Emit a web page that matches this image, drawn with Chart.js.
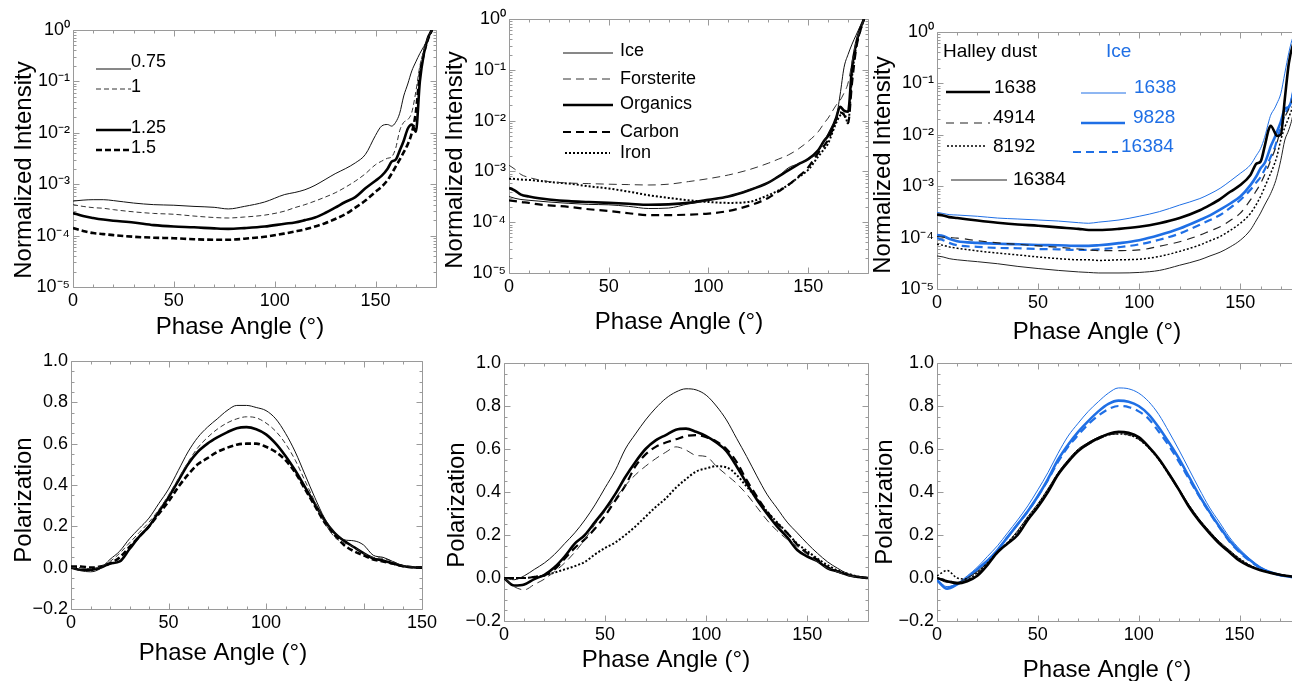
<!DOCTYPE html>
<html lang="en">
<head>
<meta charset="UTF-8">
<title>Intensity and polarization vs phase angle</title>
<style>
  html, body { margin: 0; padding: 0; background: #fff; }
  body { width: 1292px; height: 681px; overflow: hidden; position: relative; }
  canvas { position: absolute; }
</style>
</head>
<body>
<canvas id="p1"></canvas>
<canvas id="p2"></canvas>
<canvas id="p3"></canvas>
<canvas id="p4"></canvas>
<canvas id="p5"></canvas>
<canvas id="p6"></canvas>
<script src="https://cdn.jsdelivr.net/npm/chart.js"></script>
<script>
// ---------- data ----------
const xTickValues = [0, 50, 100, 150];
const xTickLabels = ['0', '50', '100', '150'];
// bottom-left panel: axis runs to 180 but the last label reads 150
const xTickValuesP4 = [0, 50, 100, 180];
const decadeTicks = [1e-5, 1e-4, 1e-3, 1e-2, 1e-1, 1];
const polTicks = [-0.2, 0, 0.2, 0.4, 0.6, 0.8, 1.0];

// top-left: size parameter
const angles1 = [0, 5, 10, 15, 20, 30, 40, 50, 60, 70, 77, 85, 95, 105, 110, 115, 120, 125, 130, 135, 140, 145, 150, 153, 156, 158, 160, 162, 164, 166, 168, 170, 172, 174, 176, 178];
const int075 = [4.7e-4, 4.9e-4, 5.0e-4, 5.0e-4, 4.8e-4, 4.3e-4, 4.0e-4, 3.9e-4, 3.7e-4, 3.55e-4, 3.3e-4, 3.7e-4, 4.5e-4, 6.3e-4, 6.9e-4, 7.8e-4, 9.5e-4, 1.23e-3, 1.6e-3, 2.0e-3, 2.6e-3, 3.8e-3, 8.9e-3, 1.35e-2, 1.45e-2, 1.35e-2, 1.6e-2, 2.4e-2, 5.2e-2, 8.9e-2, 0.16, 0.24, 0.35, 0.48, 0.68, 1.0];
const int1 = [4.0e-4, 3.7e-4, 3.5e-4, 3.4e-4, 3.2e-4, 2.9e-4, 2.7e-4, 2.6e-4, 2.4e-4, 2.25e-4, 2.2e-4, 2.3e-4, 2.5e-4, 3.0e-4, 3.5e-4, 4.0e-4, 4.7e-4, 5.6e-4, 6.8e-4, 8.7e-4, 1.15e-3, 1.6e-3, 2.4e-3, 2.8e-3, 3.2e-3, 3.4e-3, 5.0e-3, 1.1e-2, 1.6e-2, 1.8e-2, 2.5e-2, 6.3e-2, 0.2, 0.4, 0.71, 1.0];
const int125 = [2.75e-4, 2.4e-4, 2.2e-4, 2.05e-4, 1.95e-4, 1.8e-4, 1.6e-4, 1.5e-4, 1.45e-4, 1.38e-4, 1.35e-4, 1.4e-4, 1.5e-4, 1.7e-4, 1.8e-4, 2.0e-4, 2.25e-4, 2.75e-4, 3.5e-4, 4.5e-4, 5.6e-4, 8.3e-4, 1.17e-3, 1.45e-3, 2.0e-3, 2.75e-3, 3.0e-3, 4.5e-3, 7.0e-3, 1.2e-2, 1.45e-2, 1.05e-2, 0.1, 0.35, 0.7, 1.0];
const int15 = [1.4e-4, 1.23e-4, 1.12e-4, 1.07e-4, 1.02e-4, 9.5e-5, 9.1e-5, 8.9e-5, 8.5e-5, 8.3e-5, 8.3e-5, 8.7e-5, 9.5e-5, 1.1e-4, 1.2e-4, 1.32e-4, 1.5e-4, 1.74e-4, 2.1e-4, 2.6e-4, 3.5e-4, 4.8e-4, 7.1e-4, 8.9e-4, 1.2e-3, 1.6e-3, 2.2e-3, 3.0e-3, 4.2e-3, 6.0e-3, 1.0e-2, 2.5e-2, 0.14, 0.35, 0.66, 1.0];

// top-middle: composition
const angles2 = [0, 3, 6, 10, 15, 20, 30, 40, 50, 60, 70, 80, 90, 100, 110, 120, 130, 135, 140, 145, 150, 155, 158, 160, 162, 164, 166, 168, 170, 172, 174, 176, 178];
const intIce = [3.2e-4, 2.95e-4, 2.8e-4, 2.7e-4, 2.6e-4, 2.5e-4, 2.35e-4, 2.24e-4, 2.2e-4, 2.05e-4, 1.86e-4, 1.9e-4, 2.3e-4, 2.7e-4, 3.2e-4, 4.3e-4, 6.0e-4, 7.9e-4, 1.17e-3, 1.41e-3, 1.7e-3, 2.5e-3, 4.0e-3, 5.6e-3, 7.9e-3, 1.12e-2, 3.2e-2, 0.112, 0.2, 0.32, 0.48, 0.71, 1.0];
const intForst = [1.32e-3, 1.1e-3, 8.7e-4, 7.6e-4, 6.8e-4, 6.3e-4, 5.9e-4, 5.75e-4, 5.6e-4, 5.5e-4, 5.4e-4, 5.6e-4, 6.3e-4, 7.2e-4, 8.5e-4, 1.07e-3, 1.45e-3, 1.74e-3, 2.1e-3, 2.75e-3, 3.9e-3, 6.0e-3, 8.9e-3, 1.12e-2, 1.5e-2, 2.0e-2, 2.5e-2, 3.5e-2, 5.5e-2, 0.141, 0.355, 0.62, 1.0];
const intOrg = [4.7e-4, 4.2e-4, 3.5e-4, 3.2e-4, 2.95e-4, 2.8e-4, 2.6e-4, 2.5e-4, 2.4e-4, 2.3e-4, 2.2e-4, 2.24e-4, 2.4e-4, 2.75e-4, 3.2e-4, 4.2e-4, 6.0e-4, 7.9e-4, 1.05e-3, 1.38e-3, 1.74e-3, 2.6e-3, 4.0e-3, 5.0e-3, 7.1e-3, 1.12e-2, 1.86e-2, 1.58e-2, 1.5e-2, 0.112, 0.32, 0.63, 1.0];
const intCarbon = [2.7e-4, 2.6e-4, 2.5e-4, 2.4e-4, 2.24e-4, 2.15e-4, 2.0e-4, 1.8e-4, 1.66e-4, 1.5e-4, 1.38e-4, 1.38e-4, 1.41e-4, 1.48e-4, 1.66e-4, 2.1e-4, 3.0e-4, 4.0e-4, 5.4e-4, 7.8e-4, 1.2e-3, 2.3e-3, 3.2e-3, 4.2e-3, 6.3e-3, 1.05e-2, 1.45e-2, 1.3e-2, 8.9e-3, 5.5e-2, 0.25, 0.56, 1.0];
const intIron = [7.2e-4, 7.1e-4, 6.9e-4, 6.8e-4, 6.5e-4, 6.2e-4, 5.75e-4, 5.1e-4, 4.6e-4, 4.0e-4, 3.4e-4, 3.0e-4, 2.7e-4, 2.5e-4, 2.4e-4, 2.5e-4, 3.4e-4, 4.2e-4, 5.4e-4, 7.6e-4, 1.07e-3, 1.95e-3, 2.75e-3, 3.55e-3, 5.6e-3, 8.9e-3, 1.26e-2, 1.38e-2, 8.9e-3, 7.4e-2, 0.28, 0.56, 1.0];

// top-right: monomer number, Halley dust and ice
const angles3 = [0, 3, 6, 10, 20, 30, 40, 50, 60, 70, 75, 80, 90, 100, 110, 120, 130, 135, 140, 145, 150, 155, 158, 160, 162, 164, 165, 167, 168, 170, 172, 174, 176, 178];
const intH1638 = [2.8e-4, 2.7e-4, 2.5e-4, 2.4e-4, 2.15e-4, 1.95e-4, 1.8e-4, 1.7e-4, 1.58e-4, 1.48e-4, 1.41e-4, 1.41e-4, 1.48e-4, 1.62e-4, 1.9e-4, 2.4e-4, 3.4e-4, 4.3e-4, 5.6e-4, 7.8e-4, 1.05e-3, 1.66e-3, 2.75e-3, 3.0e-3, 5.9e-3, 1.26e-2, 1.5e-2, 1.12e-2, 9.5e-3, 1.0e-2, 5.0e-2, 0.25, 0.56, 0.8];
const intH4914 = [1.05e-4, 1.02e-4, 1.0e-4, 9.8e-5, 8.7e-5, 7.9e-5, 7.4e-5, 6.9e-5, 6.5e-5, 6.0e-5, 5.75e-5, 5.6e-5, 5.6e-5, 5.75e-5, 6.8e-5, 8.3e-5, 1.12e-4, 1.35e-4, 1.62e-4, 2.15e-4, 3.0e-4, 5.4e-4, 8.3e-4, 1.12e-3, 1.66e-3, 2.5e-3, 3.2e-3, 5.0e-3, 6.8e-3, 1.26e-2, 2.2e-2, 3.2e-2, 5.6e-2, 0.2];
const intH8192 = [7.4e-5, 7.1e-5, 6.6e-5, 6.2e-5, 5.5e-5, 5.0e-5, 4.6e-5, 4.2e-5, 3.9e-5, 3.7e-5, 3.7e-5, 3.6e-5, 3.7e-5, 3.8e-5, 4.3e-5, 5.4e-5, 7.2e-5, 8.7e-5, 1.05e-4, 1.38e-4, 1.9e-4, 2.95e-4, 4.5e-4, 6.3e-4, 9.5e-4, 1.45e-3, 1.78e-3, 2.8e-3, 3.7e-3, 7.9e-3, 1.4e-2, 2.2e-2, 4.0e-2, 0.158];
const intH16384 = [4.4e-5, 4.2e-5, 3.9e-5, 3.7e-5, 3.4e-5, 3.1e-5, 2.75e-5, 2.5e-5, 2.3e-5, 2.15e-5, 2.1e-5, 2.05e-5, 2.05e-5, 2.1e-5, 2.3e-5, 2.9e-5, 3.7e-5, 4.4e-5, 5.2e-5, 6.6e-5, 8.9e-5, 1.41e-4, 2.2e-4, 3.0e-4, 4.3e-4, 6.0e-4, 7.2e-4, 1.12e-3, 1.5e-3, 3.2e-3, 7.9e-3, 1.26e-2, 2.5e-2, 0.1];
const intI1638 = [3.1e-4, 2.95e-4, 2.8e-4, 2.75e-4, 2.6e-4, 2.4e-4, 2.3e-4, 2.2e-4, 2.1e-4, 1.95e-4, 1.9e-4, 2.0e-4, 2.2e-4, 2.6e-4, 3.2e-4, 4.3e-4, 5.75e-4, 7.1e-4, 9.1e-4, 1.26e-3, 1.78e-3, 2.6e-3, 4.0e-3, 5.4e-3, 8.9e-3, 1.78e-2, 2.4e-2, 3.3e-2, 4.0e-2, 6.3e-2, 0.158, 0.4, 0.79, 1.0];
const intI9828 = [1.12e-4, 1.07e-4, 9.5e-5, 8.5e-5, 7.9e-5, 7.6e-5, 7.4e-5, 7.2e-5, 7.1e-5, 6.9e-5, 6.9e-5, 7.1e-5, 7.8e-5, 8.9e-5, 1.12e-4, 1.5e-4, 2.2e-4, 2.7e-4, 3.5e-4, 4.6e-4, 6.3e-4, 1.05e-3, 1.58e-3, 2.24e-3, 2.8e-3, 4.5e-3, 5.9e-3, 8.9e-3, 1.12e-2, 1.78e-2, 3.2e-2, 3.5e-2, 6.3e-2, 0.25];
const intI16384 = [9.8e-5, 8.9e-5, 7.9e-5, 7.1e-5, 6.6e-5, 6.3e-5, 6.2e-5, 6.0e-5, 5.9e-5, 5.75e-5, 5.75e-5, 5.9e-5, 6.5e-5, 7.4e-5, 9.1e-5, 1.2e-4, 1.78e-4, 2.2e-4, 2.75e-4, 3.8e-4, 5.4e-4, 8.5e-4, 1.2e-3, 1.5e-3, 2.1e-3, 3.0e-3, 3.7e-3, 5.6e-3, 7.6e-3, 1.4e-2, 2.5e-2, 3.5e-2, 6.3e-2, 0.25];

// bottom row: polarization, every 5 degrees
const angles5 = [0, 5, 10, 15, 20, 25, 30, 35, 40, 45, 50, 55, 60, 65, 70, 75, 80, 85, 90, 95, 100, 105, 110, 115, 120, 125, 130, 135, 140, 145, 150, 155, 160, 165, 170, 175, 180];
const pol075 = [0, -0.015, -0.02, -0.005, 0.04, 0.08, 0.14, 0.19, 0.24, 0.31, 0.38, 0.47, 0.56, 0.63, 0.68, 0.72, 0.76, 0.785, 0.785, 0.775, 0.76, 0.72, 0.65, 0.56, 0.45, 0.34, 0.24, 0.17, 0.135, 0.13, 0.11, 0.06, 0.05, 0.03, 0.01, 0.003, 0];
const pol1 = [0, 0, -0.005, 0.005, 0.03, 0.07, 0.12, 0.17, 0.22, 0.28, 0.35, 0.43, 0.51, 0.58, 0.63, 0.67, 0.70, 0.72, 0.73, 0.725, 0.70, 0.66, 0.60, 0.52, 0.42, 0.32, 0.22, 0.15, 0.12, 0.10, 0.07, 0.05, 0.045, 0.03, 0.01, 0.003, 0];
const pol125 = [0, -0.01, -0.01, 0.0, 0.02, 0.03, 0.09, 0.15, 0.2, 0.27, 0.34, 0.42, 0.5, 0.56, 0.6, 0.63, 0.655, 0.675, 0.68, 0.67, 0.645, 0.6, 0.54, 0.47, 0.39, 0.31, 0.23, 0.17, 0.13, 0.1, 0.07, 0.045, 0.035, 0.02, 0.008, 0.002, 0];
const pol15 = [0.005, 0.005, 0.0, 0.005, 0.02, 0.05, 0.1, 0.15, 0.2, 0.26, 0.32, 0.39, 0.45, 0.5, 0.53, 0.56, 0.58, 0.595, 0.6, 0.6, 0.585, 0.56, 0.52, 0.46, 0.38, 0.3, 0.22, 0.16, 0.11, 0.08, 0.06, 0.04, 0.03, 0.02, 0.008, 0.002, 0];

const polIce = [0, -0.008, 0.01, 0.04, 0.07, 0.11, 0.16, 0.21, 0.27, 0.34, 0.42, 0.5, 0.6, 0.67, 0.735, 0.79, 0.835, 0.865, 0.88, 0.875, 0.85, 0.8, 0.735, 0.65, 0.565, 0.475, 0.39, 0.325, 0.26, 0.21, 0.16, 0.115, 0.075, 0.045, 0.02, 0.007, 0];
const polForst = [0, -0.04, -0.055, -0.03, -0.005, 0.03, 0.07, 0.12, 0.18, 0.25, 0.31, 0.37, 0.43, 0.48, 0.52, 0.555, 0.585, 0.61, 0.595, 0.57, 0.565, 0.52, 0.48, 0.44, 0.39, 0.33, 0.27, 0.22, 0.18, 0.146, 0.11, 0.075, 0.045, 0.028, 0.012, 0.004, 0];
const polOrg = [0, -0.035, -0.03, -0.005, 0.015, 0.05, 0.1, 0.16, 0.2, 0.26, 0.32, 0.39, 0.47, 0.54, 0.6, 0.64, 0.665, 0.69, 0.695, 0.68, 0.66, 0.63, 0.59, 0.52, 0.44, 0.365, 0.3, 0.24, 0.19, 0.13, 0.1, 0.078, 0.045, 0.03, 0.014, 0.005, 0];
const polCarbon = [0, 0, 0, 0.005, 0.012, 0.04, 0.09, 0.14, 0.18, 0.23, 0.29, 0.36, 0.43, 0.52, 0.575, 0.61, 0.63, 0.645, 0.66, 0.665, 0.655, 0.635, 0.6, 0.54, 0.455, 0.38, 0.31, 0.255, 0.21, 0.155, 0.115, 0.085, 0.05, 0.03, 0.014, 0.005, 0];
const polIron = [0, 0, 0, 0.005, 0.012, 0.025, 0.04, 0.055, 0.075, 0.11, 0.14, 0.165, 0.2, 0.24, 0.285, 0.33, 0.37, 0.42, 0.46, 0.495, 0.51, 0.52, 0.515, 0.48, 0.425, 0.37, 0.31, 0.26, 0.21, 0.16, 0.125, 0.09, 0.06, 0.035, 0.02, 0.007, 0];

const polH1638 = [0, -0.015, -0.025, -0.015, 0.01, 0.06, 0.12, 0.16, 0.2, 0.27, 0.33, 0.4, 0.48, 0.54, 0.59, 0.625, 0.65, 0.67, 0.68, 0.675, 0.655, 0.61, 0.555, 0.485, 0.41, 0.33, 0.265, 0.21, 0.16, 0.12, 0.08, 0.055, 0.037, 0.025, 0.015, 0.008, 0];
const polH4914 = [0, -0.01, -0.02, -0.01, 0.02, 0.065, 0.115, 0.16, 0.21, 0.275, 0.335, 0.405, 0.48, 0.54, 0.59, 0.62, 0.645, 0.665, 0.67, 0.665, 0.645, 0.605, 0.55, 0.48, 0.405, 0.33, 0.265, 0.21, 0.165, 0.125, 0.085, 0.058, 0.038, 0.025, 0.015, 0.008, 0];
const polH8192 = [0.01, 0.035, 0.0, -0.005, 0.025, 0.07, 0.12, 0.165, 0.215, 0.28, 0.34, 0.41, 0.485, 0.545, 0.595, 0.625, 0.65, 0.665, 0.67, 0.665, 0.645, 0.605, 0.55, 0.48, 0.41, 0.335, 0.27, 0.215, 0.165, 0.125, 0.09, 0.06, 0.04, 0.026, 0.016, 0.009, 0];
const polH16384 = [0, -0.02, -0.02, 0.0, 0.03, 0.07, 0.12, 0.165, 0.22, 0.285, 0.345, 0.415, 0.49, 0.55, 0.6, 0.63, 0.655, 0.67, 0.675, 0.67, 0.65, 0.61, 0.555, 0.49, 0.415, 0.34, 0.275, 0.22, 0.17, 0.13, 0.09, 0.06, 0.04, 0.027, 0.017, 0.009, 0];
const polI1638 = [-0.01, -0.04, -0.025, 0.01, 0.05, 0.1, 0.15, 0.21, 0.27, 0.335, 0.41, 0.49, 0.58, 0.66, 0.72, 0.775, 0.82, 0.86, 0.884, 0.88, 0.86, 0.82, 0.76, 0.68, 0.595, 0.505, 0.415, 0.33, 0.26, 0.19, 0.135, 0.09, 0.053, 0.03, 0.015, 0.007, 0];
const polI9828 = [-0.01, -0.05, -0.03, 0.0, 0.04, 0.08, 0.13, 0.19, 0.25, 0.31, 0.38, 0.46, 0.55, 0.62, 0.68, 0.73, 0.775, 0.81, 0.825, 0.82, 0.8, 0.76, 0.7, 0.63, 0.555, 0.47, 0.385, 0.31, 0.24, 0.175, 0.125, 0.085, 0.05, 0.028, 0.014, 0.006, 0];
const polI16384 = [-0.01, -0.045, -0.03, 0.0, 0.04, 0.08, 0.13, 0.19, 0.25, 0.31, 0.38, 0.455, 0.54, 0.61, 0.665, 0.715, 0.755, 0.785, 0.8, 0.795, 0.775, 0.74, 0.68, 0.615, 0.54, 0.46, 0.38, 0.305, 0.235, 0.17, 0.12, 0.08, 0.048, 0.026, 0.013, 0.006, 0];

// ---------- styling ----------
const FONT = '"Liberation Sans", Arial, Helvetica, sans-serif';
const BLUE = '#1f6fe5';
const AXIS_GREY = '#9a9a9a';
Chart.defaults.font.family = FONT;
Chart.defaults.color = '#000';

const SUP = { '-': '\u207B', '0': '\u2070', '1': '\u00B9', '2': '\u00B2', '3': '\u00B3', '4': '\u2074', '5': '\u2075' };
function powLabel(v) {
  const e = Math.round(Math.log10(v));
  return '10' + String(e).split('').map(c => SUP[c]).join('');
}
function polLabel(v) {
  return (v < -1e-9 ? '\u2212' : '') + Math.abs(v).toFixed(1);
}

function series(label, xs, ys, color, width, dash) {
  return {
    label,
    data: xs.map((x, i) => ({ x, y: ys[i] })),
    borderColor: color,
    backgroundColor: color,
    borderWidth: width,
    borderDash: dash,
    pointRadius: 0,
    fill: false,
    cubicInterpolationMode: 'monotone'
  };
}

// frame + inward ticks on all four sides
const framePlugin = {
  id: 'frame',
  beforeDatasetsDraw(chart) {
    const { ctx, chartArea: a, scales: { x, y } } = chart;
    const L = Math.round(a.left) + 0.5, R = Math.round(a.right) + 0.5;
    const T = Math.round(a.top) + 0.5, B = Math.round(a.bottom) + 0.5;
    ctx.save();
    ctx.strokeStyle = AXIS_GREY;
    ctx.lineWidth = 1;
    ctx.beginPath();
    ctx.rect(L, T, R - L, B - T);
    for (let v = 0; v <= 180; v += 10) {
      const px = Math.round(x.getPixelForValue(v)) + 0.5;
      const len = v % 50 === 0 ? 6 : 3;
      ctx.moveTo(px, B); ctx.lineTo(px, B - len);
      ctx.moveTo(px, T); ctx.lineTo(px, T + len);
    }
    const yt = [];
    if (y.type === 'logarithmic') {
      for (let e = -5; e < 0; e++) for (let m = 1; m < 10; m++) yt.push([m * Math.pow(10, e), m === 1]);
      yt.push([1, true]);
    } else {
      for (let i = -4; i <= 20; i++) yt.push([i * 0.05, i % 4 === 0]);
    }
    yt.forEach(([v, major]) => {
      const py = Math.round(y.getPixelForValue(v)) + 0.5;
      const len = major ? 6 : 3;
      ctx.moveTo(L, py); ctx.lineTo(L + len, py);
      ctx.moveTo(R, py); ctx.lineTo(R - len, py);
    });
    ctx.stroke();
    ctx.restore();
  }
};

// axis titles and the in-plot legends (page coordinates)
const decorPlugin = {
  id: 'decor',
  afterDraw(chart, args, o) {
    const { ctx } = chart;
    ctx.save();
    ctx.translate(-o.ox, -o.oy);
    ctx.fillStyle = '#000';
    ctx.font = '24px ' + FONT;
    ctx.textBaseline = 'middle';
    ctx.textAlign = 'center';
    ctx.fillText(o.xTitle.text, o.xTitle.x, o.xTitle.y);
    ctx.save();
    ctx.translate(o.yTitle.x, o.yTitle.y);
    ctx.rotate(-Math.PI / 2);
    ctx.fillText(o.yTitle.text, 0, 0);
    ctx.restore();

    ctx.textAlign = 'left';
    ctx.font = o.legendSize + 'px ' + FONT;
    (o.legend || []).forEach((s, i) => {
      const ds = chart.data.datasets[i];
      ctx.strokeStyle = ds.borderColor;
      ctx.lineWidth = ds.borderWidth;
      ctx.setLineDash(ds.borderDash || []);
      ctx.beginPath();
      ctx.moveTo(s.x1, s.ly);
      ctx.lineTo(s.x2, s.ly);
      ctx.stroke();
      ctx.fillStyle = ds.borderColor === BLUE ? BLUE : '#000';
      ctx.fillText(ds.label, s.tx, s.ty);
    });
    ctx.setLineDash([]);
    (o.notes || []).forEach(n => {
      ctx.fillStyle = n.color;
      ctx.fillText(n.text, n.x, n.y);
    });
    ctx.restore();
  }
};

function makePanel(p) {
  const cv = document.getElementById(p.id);
  cv.width = p.box.w;
  cv.height = p.box.h;
  cv.style.left = p.box.x + 'px';
  cv.style.top = p.box.y + 'px';
  const tickFont = { size: 18 };
  const yScale = p.log
    ? { type: 'logarithmic', min: 1e-5, max: 1, tickValues: decadeTicks, fmt: powLabel }
    : { type: 'linear', min: -0.2, max: 1.0, tickValues: polTicks, fmt: polLabel };
  return new Chart(cv, {
    type: 'line',
    data: { datasets: p.datasets },
    options: {
      responsive: false,
      animation: false,
      events: [],
      layout: { padding: { left: 0, top: p.area.t - p.box.y, right: p.box.x + p.box.w - p.area.r, bottom: 0 } },
      plugins: {
        legend: { display: false },
        tooltip: { enabled: false },
        decor: {
          ox: p.box.x, oy: p.box.y,
          xTitle: p.xTitle, yTitle: p.yTitle,
          legendSize: p.legendSize, legend: p.legend, notes: p.notes
        }
      },
      scales: {
        x: {
          type: 'linear', min: 0, max: 180,
          grid: { display: false, drawTicks: false },
          border: { display: false },
          afterBuildTicks: s => { s.ticks = p.xTicks.map(v => ({ value: v })); },
          afterFit: s => { s.height = p.box.y + p.box.h - p.area.b; },
          ticks: { padding: 3, maxRotation: 0, autoSkip: false, font: tickFont, color: '#000',
                   callback: (v, i) => xTickLabels[i] }
        },
        y: {
          type: yScale.type, min: yScale.min, max: yScale.max,
          grid: { display: false, drawTicks: false },
          border: { display: false },
          afterBuildTicks: s => { s.ticks = yScale.tickValues.map(v => ({ value: v })); },
          afterFit: s => { s.width = p.area.l - p.box.x; },
          ticks: { padding: 3, autoSkip: false, font: tickFont, color: '#000', callback: v => yScale.fmt(v) }
        }
      }
    },
    plugins: [framePlugin, decorPlugin]
  });
}

const intensityTitle = 'Normalized Intensity';
const phaseTitle = 'Phase Angle (\u00B0)';
const polTitle = 'Polarization';

makePanel({
  id: 'p1', log: true,
  box: { x: 0, y: 0, w: 445, h: 345 },
  area: { l: 73, t: 30, r: 436, b: 287 },
  xTicks: xTickValues,
  datasets: [
    series('0.75', angles1, int075, '#111', 1, []),
    series('1', angles1, int1, '#333', 1, [5, 3]),
    series('1.25', angles1, int125, '#000', 2.6, []),
    series('1.5', angles1, int15, '#000', 2.6, [6, 3])
  ],
  xTitle: { text: phaseTitle, x: 240, y: 327 },
  yTitle: { text: intensityTitle, x: 24, y: 170 },
  legendSize: 18,
  legend: [
    { x1: 96, x2: 131, ly: 69, tx: 131, ty: 62 },
    { x1: 96, x2: 131, ly: 89, tx: 131, ty: 87 },
    { x1: 96, x2: 131, ly: 130, tx: 131, ty: 128 },
    { x1: 96, x2: 131, ly: 150, tx: 131, ty: 148 }
  ]
});

makePanel({
  id: 'p2', log: true,
  box: { x: 435, y: 0, w: 440, h: 345 },
  area: { l: 509, t: 19, r: 868, b: 273 },
  xTicks: xTickValues,
  datasets: [
    series('Ice', angles2, intIce, '#111', 1, []),
    series('Forsterite', angles2, intForst, '#333', 1, [8, 5]),
    series('Organics', angles2, intOrg, '#000', 2.6, []),
    series('Carbon', angles2, intCarbon, '#000', 2.2, [8, 5]),
    series('Iron', angles2, intIron, '#000', 2, [2, 2])
  ],
  xTitle: { text: phaseTitle, x: 679, y: 322 },
  yTitle: { text: intensityTitle, x: 455, y: 160 },
  legendSize: 18,
  legend: [
    { x1: 563, x2: 613, ly: 53, tx: 620, ty: 51 },
    { x1: 563, x2: 613, ly: 79, tx: 620, ty: 79 },
    { x1: 563, x2: 613, ly: 105, tx: 620, ty: 104 },
    { x1: 563, x2: 613, ly: 132, tx: 620, ty: 132 },
    { x1: 565, x2: 610, ly: 153, tx: 620, ty: 153 }
  ]
});

makePanel({
  id: 'p3', log: true,
  box: { x: 865, y: 0, w: 445, h: 345 },
  area: { l: 937, t: 32, r: 1301, b: 289 },
  xTicks: xTickValues,
  datasets: [
    series('1638', angles3, intH1638, '#000', 2.6, []),
    series('4914', angles3, intH4914, '#222', 1.2, [8, 6]),
    series('8192', angles3, intH8192, '#000', 1.5, [2, 2]),
    series('16384', angles3, intH16384, '#222', 1, []),
    series('1638', angles3, intI1638, BLUE, 1, []),
    series('9828', angles3, intI9828, BLUE, 2.6, []),
    series('16384', angles3, intI16384, BLUE, 2.2, [8, 5])
  ],
  xTitle: { text: phaseTitle, x: 1097, y: 332 },
  yTitle: { text: intensityTitle, x: 883, y: 165 },
  legendSize: 19,
  legend: [
    { x1: 946, x2: 990, ly: 92, tx: 994, ty: 88 },
    { x1: 946, x2: 990, ly: 123, tx: 993, ty: 118 },
    { x1: 947, x2: 987, ly: 146, tx: 993, ty: 147 },
    { x1: 951, x2: 1007, ly: 180, tx: 1013, ty: 180 },
    { x1: 1081, x2: 1126, ly: 93, tx: 1134, ty: 88 },
    { x1: 1081, x2: 1125, ly: 123, tx: 1133, ty: 118 },
    { x1: 1073, x2: 1118, ly: 152, tx: 1121, ty: 147 }
  ],
  notes: [
    { text: 'Halley dust', color: '#000', x: 943, y: 52 },
    { text: 'Ice', color: BLUE, x: 1106, y: 52 }
  ]
});

makePanel({
  id: 'p4', log: false,
  box: { x: 0, y: 340, w: 445, h: 341 },
  area: { l: 71, t: 361, r: 422, b: 609 },
  xTicks: xTickValuesP4,
  datasets: [
    series('0.75', angles5, pol075, '#111', 1, []),
    series('1', angles5, pol1, '#333', 1, [5, 3]),
    series('1.25', angles5, pol125, '#000', 2.6, []),
    series('1.5', angles5, pol15, '#000', 2.6, [6, 3])
  ],
  xTitle: { text: phaseTitle, x: 223, y: 653 },
  yTitle: { text: polTitle, x: 24, y: 500 }
});

makePanel({
  id: 'p5', log: false,
  box: { x: 435, y: 340, w: 440, h: 341 },
  area: { l: 504, t: 363, r: 868, b: 621 },
  xTicks: xTickValues,
  datasets: [
    series('Ice', angles5, polIce, '#111', 1, []),
    series('Forsterite', angles5, polForst, '#333', 1, [8, 5]),
    series('Organics', angles5, polOrg, '#000', 2.6, []),
    series('Carbon', angles5, polCarbon, '#000', 2.2, [8, 5]),
    series('Iron', angles5, polIron, '#000', 2, [2, 2])
  ],
  xTitle: { text: phaseTitle, x: 666, y: 660 },
  yTitle: { text: polTitle, x: 457, y: 505 }
});

makePanel({
  id: 'p6', log: false,
  box: { x: 865, y: 340, w: 445, h: 341 },
  area: { l: 937, t: 363, r: 1300, b: 621 },
  xTicks: xTickValues,
  datasets: [
    series('1638', angles5, polH1638, '#000', 2.6, []),
    series('4914', angles5, polH4914, '#222', 1.2, [8, 6]),
    series('8192', angles5, polH8192, '#000', 1.5, [2, 2]),
    series('16384', angles5, polH16384, '#222', 1, []),
    series('1638', angles5, polI1638, BLUE, 1, []),
    series('9828', angles5, polI9828, BLUE, 2.6, []),
    series('16384', angles5, polI16384, BLUE, 2.2, [8, 5])
  ],
  xTitle: { text: phaseTitle, x: 1107, y: 670 },
  yTitle: { text: polTitle, x: 885, y: 502 }
});
</script>
</body>
</html>
